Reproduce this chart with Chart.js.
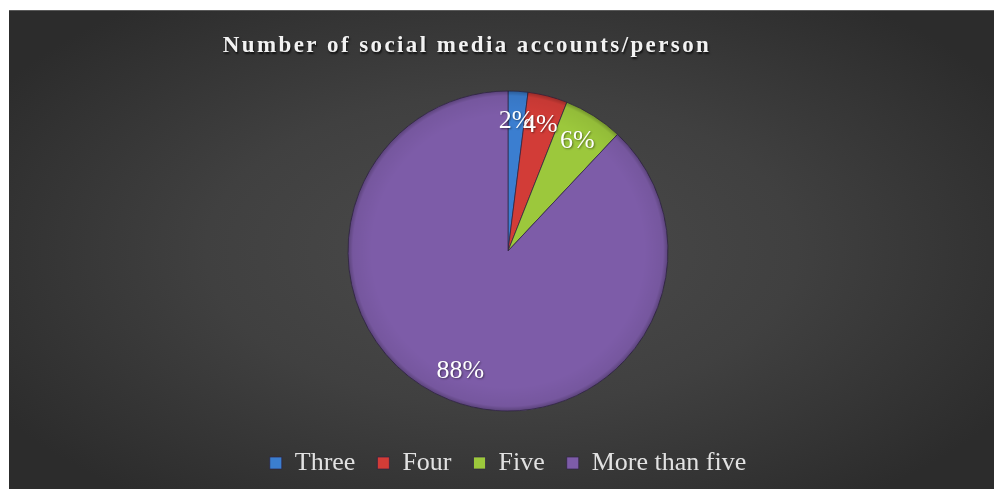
<!DOCTYPE html>
<html>
<head>
<meta charset="utf-8">
<script src="https://cdn.jsdelivr.net/npm/chart.js@4.4.1/dist/chart.umd.min.js"></script>
<style>
    html, body { margin: 0; padding: 0; background: #ffffff; }
    #wrap { position: relative; width: 994px; height: 489px; overflow: hidden; }
    #panel {
        position: absolute; left: 9px; top: 10px; width: 985px; height: 479px;
        background: radial-gradient(ellipse 60% 65% at 50% 50%, #4b4b4b 0%, #404040 50%, #2c2c2c 100%);
        border-top: 1px solid #5a5a5a;
    }
    #chartCanvas { position: absolute; left: 0; top: 0; }
</style>
</head>
<body>
<div id="wrap">
    <div id="panel"></div>
    <canvas id="chartCanvas" width="994" height="489"></canvas>
</div>
<script>
// Chart data
const chartTitle = 'Number of social media accounts/person';
const categories = ['Three', 'Four', 'Five', 'More than five'];
const shareValues = [2, 4, 6, 88];
const sliceColors = ['#3b7ed0', '#d23c37', '#9cc83c', '#7d5ca8'];

const serifFont = "'Liberation Serif', 'Times New Roman', serif";

// Draws the title a bit left of center, letter-spaced like the original
const titlePlugin = {
    id: 'spacedTitle',
    afterDraw(chart) {
        const ctx = chart.ctx;
        ctx.save();
        ctx.font = 'bold 23px ' + serifFont;
        if ('letterSpacing' in ctx) ctx.letterSpacing = '2.4px';
        ctx.textAlign = 'center';
        ctx.textBaseline = 'middle';
        ctx.shadowColor = 'rgba(0,0,0,0.7)';
        ctx.shadowOffsetX = 1;
        ctx.shadowOffsetY = 2;
        ctx.shadowBlur = 2;
        ctx.fillStyle = '#f2f2f2';
        ctx.fillText(chartTitle, 467, 46);
        ctx.restore();
    }
};

// Soft darker rim so the pie looks bevelled, then the percentage labels
const sliceLabelPlugin = {
    id: 'sliceLabels',
    afterDatasetsDraw(chart) {
        const ctx = chart.ctx;
        const meta = chart.getDatasetMeta(0);
        if (!meta.data.length) return;
        const first = meta.data[0].getProps(['x', 'y', 'outerRadius'], true);

        ctx.save();
        const rim = ctx.createRadialGradient(first.x, first.y, first.outerRadius * 0.85, first.x, first.y, first.outerRadius);
        rim.addColorStop(0, 'rgba(0,0,0,0)');
        rim.addColorStop(0.8, 'rgba(0,0,0,0.06)');
        rim.addColorStop(1, 'rgba(0,0,0,0.28)');
        ctx.beginPath();
        ctx.arc(first.x, first.y, first.outerRadius, 0, Math.PI * 2);
        ctx.fillStyle = rim;
        ctx.fill();
        ctx.restore();

        ctx.save();
        ctx.font = '26px ' + serifFont;
        ctx.textAlign = 'center';
        ctx.textBaseline = 'middle';
        ctx.shadowColor = 'rgba(0,0,0,0.45)';
        ctx.shadowOffsetX = 1;
        ctx.shadowOffsetY = 1;
        ctx.shadowBlur = 2;
        ctx.fillStyle = '#ffffff';
        meta.data.forEach((arc, i) => {
            const p = arc.getProps(['x', 'y', 'startAngle', 'endAngle', 'outerRadius'], true);
            const mid = (p.startAngle + p.endAngle) / 2;
            const r = p.outerRadius * 0.81;
            ctx.fillText(shareValues[i] + '%', p.x + Math.cos(mid) * r, p.y + Math.sin(mid) * r);
        });
        ctx.restore();
    }
};

const ctx = document.getElementById('chartCanvas');
const pieChart = new Chart(ctx, {
    type: 'pie',
    data: {
        labels: categories,
        datasets: [{
            data: shareValues,
            backgroundColor: sliceColors,
            borderColor: 'rgba(45,35,65,0.7)',
            borderWidth: 1
        }]
    },
    options: {
        responsive: false,
        animation: false,
        radius: 160,
        layout: {
            padding: { left: 22, right: 0, top: 74, bottom: 3 }
        },
        plugins: {
            title: { display: false },
            tooltip: { enabled: false },
            legend: {
                position: 'bottom',
                labels: {
                    color: '#e2e2e2',
                    boxWidth: 12,
                    boxHeight: 12,
                    padding: 22,
                    font: { family: serifFont, size: 26 }
                }
            }
        }
    },
    plugins: [titlePlugin, sliceLabelPlugin]
});
</script>
</body>
</html>
